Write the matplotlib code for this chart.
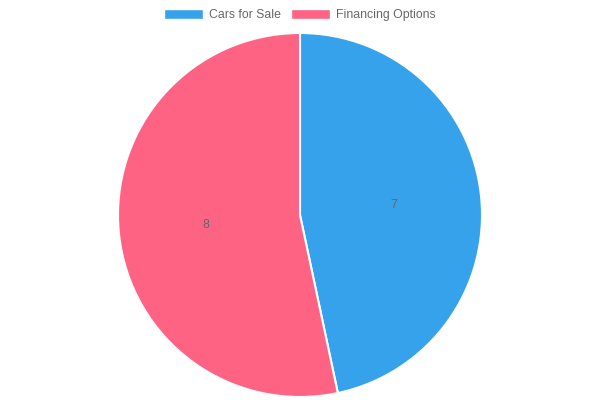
import matplotlib
matplotlib.use("Agg")
from matplotlib import pyplot as plt
from matplotlib.patches import Patch

plt.rcParams['font.family'] = ['Liberation Sans', 'DejaVu Sans']

labels = ["Cars for Sale", "Financing Options"]
values = [7, 8]
colors = ["#36A2EB", "#FF6384"]

fig = plt.figure(figsize=(6, 4), dpi=100)
# pie centre ~ (300, 215) px, radius ~182 px
r = 182
cx, cy = 300, 215
ax = fig.add_axes([(cx - r) / 600, (400 - cy - r) / 400, 2 * r / 600, 2 * r / 400])

wedges, texts = ax.pie(values, colors=colors, startangle=90, counterclock=False,
                       labels=[str(v) for v in values], labeldistance=0.5,
                       wedgeprops=dict(edgecolor="white", linewidth=1.5),
                       textprops=dict(color="#666666", fontsize=9))
ax.set_xlim(-1.0, 1.0)
ax.set_ylim(-1.0, 1.0)
ax.set_aspect("equal")
ax.axis("off")

handles = [Patch(facecolor=c, edgecolor="white", label=l) for c, l in zip(colors, labels)]
fig.legend(handles=handles, loc="upper center", bbox_to_anchor=(0.5, 1.0), ncol=2,
           frameon=False, fontsize=8.8, labelcolor="#666666",
           handlelength=3.2, handleheight=0.9, handletextpad=0.5, columnspacing=0.8,
           borderaxespad=0.3)

fig.savefig("out.png", dpi=100)
